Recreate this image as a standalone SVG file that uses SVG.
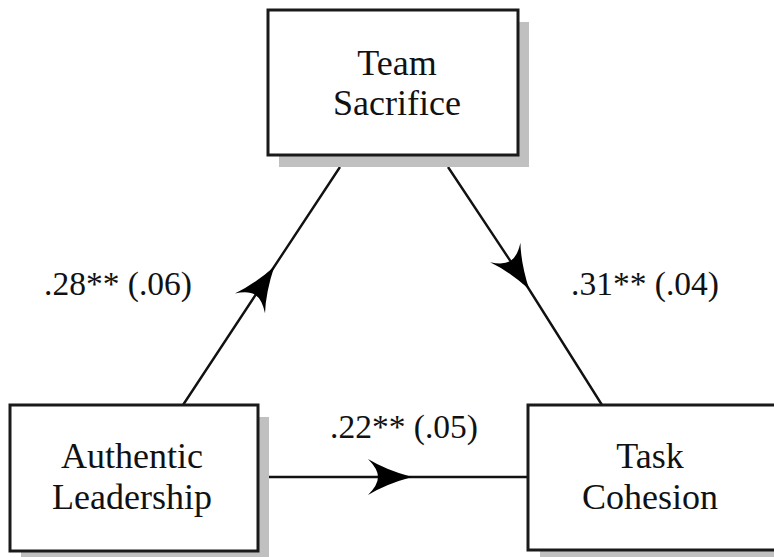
<svg xmlns="http://www.w3.org/2000/svg" width="774" height="557" viewBox="0 0 774 557">
  <style>
    .box { fill: #ffffff; stroke: #1a1a1a; stroke-width: 3; }
    .shadow { fill: #c0c0c0; stroke: none; }
    .node-text { font-size: 36px; fill: #111; text-anchor: middle; }
    .label { font-size: 33.5px; fill: #111; text-anchor: middle; }
    .conn { fill: none; stroke: #111; stroke-width: 2.4; marker-mid: url(#arrow); }
  </style>
  <defs>
    <marker id="arrow" markerUnits="userSpaceOnUse" viewBox="-45 -20 50 40" refX="0" refY="0" markerWidth="50" markerHeight="40" orient="auto" overflow="visible">
      <path d="M 4,0 Q -22,-7 -40,-18 Q -30,-8 -30,0 Q -30,8 -40,18 Q -22,7 4,0 Z" fill="#000"/>
    </marker>
  </defs>
  <rect width="774" height="557" fill="#ffffff"/>

  <g id="connectors">
    <path class="conn" d="M 183,405 L 272,270 L 340,167"/>
    <path class="conn" d="M 448,167 L 527,286 L 602,405"/>
    <path class="conn" d="M 268,477 L 408,477 L 528,477"/>
  </g>

  <g font-family="'Liberation Serif', 'DejaVu Serif', serif">
  <g id="team-sacrifice">
    <rect class="shadow" x="279" y="22" width="250" height="145"/>
    <rect class="box" x="268" y="10" width="250" height="145"/>
    <text class="node-text" x="397" y="75">Team</text>
    <text class="node-text" x="397" y="115">Sacrifice</text>
  </g>

  <g id="authentic-leadership">
    <rect class="shadow" x="21" y="417" width="248" height="146"/>
    <rect class="box" x="10" y="405" width="248" height="146"/>
    <text class="node-text" x="132" y="468">Authentic</text>
    <text class="node-text" x="132" y="509">Leadership</text>
  </g>

  <g id="task-cohesion">
    <rect class="shadow" x="540" y="417" width="260" height="145"/>
    <rect class="box" x="528" y="405" width="260" height="145"/>
    <text class="node-text" x="650" y="468">Task</text>
    <text class="node-text" x="650" y="509">Cohesion</text>
  </g>

  <g id="labels">
    <text class="label" x="118" y="295">.28** (.06)</text>
    <text class="label" x="645" y="295">.31** (.04)</text>
    <text class="label" x="404" y="438">.22** (.05)</text>
  </g>
  </g>
</svg>
